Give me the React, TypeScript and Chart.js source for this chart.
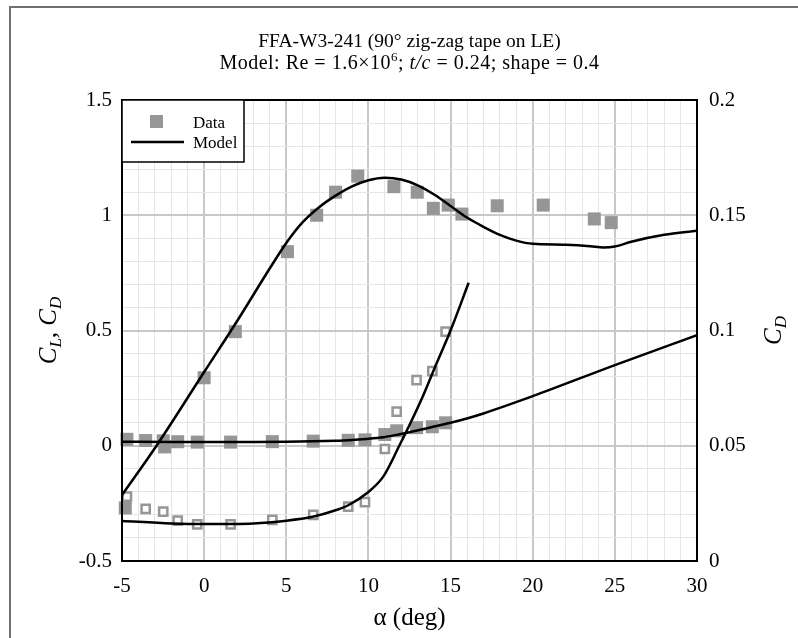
import React, { useEffect, useRef } from 'react';
import { Chart, registerables } from 'chart.js';

Chart.register(...registerables);

// ---- Data ----
// Lift coefficient, measured
const clAlpha = [-4.8, -2.4, 0.0, 1.9, 5.07, 6.85, 8.0, 9.35, 11.55, 12.97, 13.95, 14.86, 15.69, 17.84, 20.64, 23.75, 24.78];
const clData = [-0.27, -0.005, 0.295, 0.495, 0.842, 1.0, 1.1, 1.17, 1.124, 1.1, 1.03, 1.044, 1.005, 1.041, 1.044, 0.984, 0.968];

// Drag coefficient, measured (shown on both axes)
const cdAlpha = [-4.7, -3.56, -2.49, -1.61, -0.42, 1.61, 4.15, 6.64, 8.77, 9.79, 11.0, 11.72, 12.93, 13.89, 14.7];
const cdData = [0.0279, 0.0226, 0.0214, 0.0175, 0.0159, 0.0159, 0.0178, 0.02, 0.0236, 0.0255, 0.0486, 0.0648, 0.0785, 0.0824, 0.0995];

// Lift coefficient, model
const clModelAlpha = [-5, -2.9, 0, 2, 4, 5, 6, 7, 8, 9, 10, 11, 12, 13, 14, 15, 16, 17, 18, 19, 20, 22, 23.5, 24.3, 25, 26, 28, 30];
const clModel = [-0.214, 0.0, 0.32, 0.54, 0.77, 0.88, 0.97, 1.035, 1.085, 1.125, 1.152, 1.163, 1.155, 1.13, 1.09, 1.04, 0.99, 0.95, 0.915, 0.89, 0.876, 0.872, 0.866, 0.86, 0.864, 0.885, 0.915, 0.933];

// Drag coefficient, model
const cdModelAlpha = [-5, -2, 0, 3, 5, 6.6, 8, 8.8, 9.9, 10.9, 11.9, 12.5, 13.3, 14.15, 15, 16.1, 17, 20, 25, 30];
const cdModel = [0.0174, 0.0163, 0.016, 0.0163, 0.0175, 0.0192, 0.022, 0.0243, 0.0294, 0.0366, 0.0503, 0.059, 0.0713, 0.0858, 0.1, 0.1207, 0.14, 0.215, 0.35, 0.48];
const cdModelZoomMaxAlpha = 16.1;

// Axis ranges
const xRange = [-5, 30];
const yLeftRange = [-0.5, 1.5];
const yRightRange = [0, 0.2];

const titleLine1 = 'FFA-W3-241 (90° zig-zag tape on LE)';
const xTitle = 'α (deg)';
const legendLabels = ['Data', 'Model'];

const SERIF = "'Liberation Serif', 'Times New Roman', Times, serif";
const GRAY = '#969696';

function pts(xs: number[], ys: number[]) {
  return xs.map((x, i) => ({ x, y: ys[i] }));
}

type Seg = { text: string; size: number; italic?: boolean; dy?: number };

function drawRich(ctx: CanvasRenderingContext2D, segs: Seg[], cx: number, baseY: number, spacing = 0) {
  (ctx as any).letterSpacing = `${spacing}px`;
  let total = 0;
  const widths = segs.map((s) => {
    ctx.font = `${s.italic ? 'italic ' : ''}${s.size}px ${SERIF}`;
    const w = ctx.measureText(s.text).width;
    total += w;
    return w;
  });
  let x = cx - total / 2;
  ctx.textAlign = 'left';
  ctx.textBaseline = 'alphabetic';
  segs.forEach((s, i) => {
    ctx.font = `${s.italic ? 'italic ' : ''}${s.size}px ${SERIF}`;
    ctx.fillText(s.text, x, baseY + (s.dy || 0));
    x += widths[i];
  });
  (ctx as any).letterSpacing = '0px';
}

const decorPlugin = {
  id: 'decor',
  beforeDraw(chart: any) {
    const ctx = chart.ctx as CanvasRenderingContext2D;
    ctx.save();
    ctx.fillStyle = '#fff';
    ctx.fillRect(0, 0, chart.width, chart.height);
    ctx.strokeStyle = '#6f6f6f';
    ctx.lineWidth = 2;
    ctx.beginPath();
    ctx.moveTo(10, chart.height);
    ctx.lineTo(10, 7);
    ctx.lineTo(chart.width, 7);
    ctx.stroke();
    ctx.restore();
  },
  afterDraw(chart: any) {
    const ctx = chart.ctx as CanvasRenderingContext2D;
    const a = chart.chartArea;
    const cx = (a.left + a.right) / 2;
    ctx.save();
    // plot frame
    ctx.strokeStyle = '#000';
    ctx.lineWidth = 2;
    ctx.strokeRect(a.left, a.top, a.right - a.left, a.bottom - a.top);

    ctx.fillStyle = '#000';
    // titles
    drawRich(ctx, [{ text: titleLine1, size: 19.5 }], cx, 47);
    drawRich(
      ctx,
      [
        { text: 'Model: Re = 1.6×10', size: 20 },
        { text: '6', size: 13, dy: -8 },
        { text: '; ', size: 20 },
        { text: 't/c', size: 20, italic: true },
        { text: ' = 0.24; shape = 0.4', size: 20 },
      ],
      cx,
      69,
      0.5
    );
    // x axis title
    drawRich(ctx, [{ text: xTitle, size: 25 }], cx, 625);

    // left axis title
    ctx.save();
    ctx.translate(56, (a.top + a.bottom) / 2);
    ctx.rotate(-Math.PI / 2);
    drawRich(
      ctx,
      [
        { text: 'C', size: 25, italic: true },
        { text: 'L', size: 17, italic: true, dy: 5 },
        { text: ', ', size: 25 },
        { text: 'C', size: 25, italic: true },
        { text: 'D', size: 17, italic: true, dy: 5 },
      ],
      0,
      0
    );
    ctx.restore();

    // right axis title
    ctx.save();
    ctx.translate(781, (a.top + a.bottom) / 2);
    ctx.rotate(-Math.PI / 2);
    drawRich(
      ctx,
      [
        { text: 'C', size: 25, italic: true },
        { text: 'D', size: 17, italic: true, dy: 5 },
      ],
      0,
      0
    );
    ctx.restore();

    // legend
    const lx = a.left;
    const ly = a.top;
    ctx.fillStyle = '#fff';
    ctx.fillRect(lx, ly, 122, 62);
    ctx.strokeStyle = '#000';
    ctx.lineWidth = 1.5;
    ctx.strokeRect(lx, ly, 122, 62);
    ctx.fillStyle = GRAY;
    ctx.fillRect(lx + 28, ly + 15, 13, 13);
    ctx.strokeStyle = '#000';
    ctx.lineWidth = 2.5;
    ctx.beginPath();
    ctx.moveTo(lx + 9, ly + 42);
    ctx.lineTo(lx + 62, ly + 42);
    ctx.stroke();
    ctx.fillStyle = '#000';
    ctx.font = `17px ${SERIF}`;
    ctx.textAlign = 'left';
    ctx.textBaseline = 'alphabetic';
    ctx.fillText(legendLabels[0], lx + 71, ly + 28);
    ctx.fillText(legendLabels[1], lx + 71, ly + 48);
    ctx.restore();
  },
};

export default function App() {
  const ref = useRef<HTMLCanvasElement | null>(null);

  useEffect(() => {
    if (!ref.current) return;
    const gridColor = (ctx: any, step: number) => {
      const v = ctx.tick ? ctx.tick.value : 0;
      const k = Math.round(v / step);
      return k % 5 === 0 ? '#c8c8c8' : '#e6e6e6';
    };
    const gridWidth = (ctx: any, step: number) => {
      const v = ctx.tick ? ctx.tick.value : 0;
      const k = Math.round(v / step);
      return k % 5 === 0 ? 2 : 1;
    };
    const tickFont = { family: SERIF, size: 21 };

    const zoomIdx = cdModelAlpha.filter((a) => a <= cdModelZoomMaxAlpha).length;

    const chart = new Chart(ref.current, {
      type: 'scatter',
      data: {
        datasets: [
          {
            type: 'line',
            label: 'CL model',
            data: pts(clModelAlpha, clModel),
            borderColor: '#000',
            borderWidth: 2.5,
            pointRadius: 0,
            fill: false,
            cubicInterpolationMode: 'monotone',
            yAxisID: 'y',
          } as any,
          {
            type: 'line',
            label: 'CD model',
            data: pts(cdModelAlpha, cdModel),
            borderColor: '#000',
            borderWidth: 2.5,
            pointRadius: 0,
            fill: false,
            cubicInterpolationMode: 'monotone',
            yAxisID: 'y',
          } as any,
          {
            type: 'line',
            label: 'CD model (right)',
            data: pts(cdModelAlpha.slice(0, zoomIdx), cdModel.slice(0, zoomIdx)),
            borderColor: '#000',
            borderWidth: 2.5,
            pointRadius: 0,
            fill: false,
            cubicInterpolationMode: 'monotone',
            yAxisID: 'y2',
          } as any,
          {
            label: 'CL data',
            data: pts(clAlpha, clData),
            pointStyle: 'rect',
            pointRadius: 9.2,
            backgroundColor: GRAY,
            borderWidth: 0,
            clip: false,
            yAxisID: 'y',
          } as any,
          {
            label: 'CD data',
            data: pts(cdAlpha, cdData),
            pointStyle: 'rect',
            pointRadius: 9.2,
            backgroundColor: GRAY,
            borderWidth: 0,
            clip: false,
            yAxisID: 'y',
          } as any,
          {
            label: 'CD data (right)',
            data: pts(cdAlpha, cdData),
            pointStyle: 'rect',
            pointRadius: 5.8,
            backgroundColor: '#fff',
            borderColor: GRAY,
            borderWidth: 2.5,
            clip: false,
            yAxisID: 'y2',
          } as any,
        ],
      },
      options: {
        responsive: false,
        animation: false,
        layout: { padding: { top: 100, left: 0, right: 0, bottom: 0 } },
        plugins: {
          legend: { display: false },
          tooltip: { enabled: false },
          title: { display: false },
        },
        scales: {
          x: {
            type: 'linear',
            min: xRange[0],
            max: xRange[1],
            afterFit: (s: any) => {
              s.height = 77;
            },
            ticks: {
              stepSize: 1,
              autoSkip: false,
              maxRotation: 0,
              padding: 13,
              color: '#000',
              font: tickFont,
              callback: (v: any) => {
                const r = Math.round(Number(v));
                return r % 5 === 0 ? String(r) : '';
              },
            },
            grid: {
              drawTicks: false,
              color: (c: any) => gridColor(c, 1),
              lineWidth: (c: any) => gridWidth(c, 1),
            },
            border: { display: false },
          },
          y: {
            position: 'left',
            min: yLeftRange[0],
            max: yLeftRange[1],
            afterFit: (s: any) => {
              s.width = 122;
            },
            ticks: {
              stepSize: 0.1,
              autoSkip: false,
              padding: 10,
              color: '#000',
              font: tickFont,
              callback: (v: any) => {
                const k = Math.round(Number(v) * 10);
                return k % 5 === 0 ? String(k / 10) : '';
              },
            },
            grid: {
              drawTicks: false,
              color: (c: any) => gridColor(c, 0.1),
              lineWidth: (c: any) => gridWidth(c, 0.1),
            },
            border: { display: false },
          },
          y2: {
            position: 'right',
            min: yRightRange[0],
            max: yRightRange[1],
            afterFit: (s: any) => {
              s.width = 101;
            },
            ticks: {
              stepSize: 0.01,
              autoSkip: false,
              padding: 12,
              color: '#000',
              font: tickFont,
              callback: (v: any) => {
                const k = Math.round(Number(v) * 100);
                return k % 5 === 0 ? String(k / 100) : '';
              },
            },
            grid: { display: false, drawTicks: false },
            border: { display: false },
          },
        },
      } as any,
      plugins: [decorPlugin],
    });
    return () => chart.destroy();
  }, []);

  return (
    <div style={{ position: 'fixed', left: 0, top: 0, width: 798, height: 638, background: '#fff' }}>
      <canvas ref={ref} width={798} height={638} style={{ display: 'block' }} />
    </div>
  );
}
